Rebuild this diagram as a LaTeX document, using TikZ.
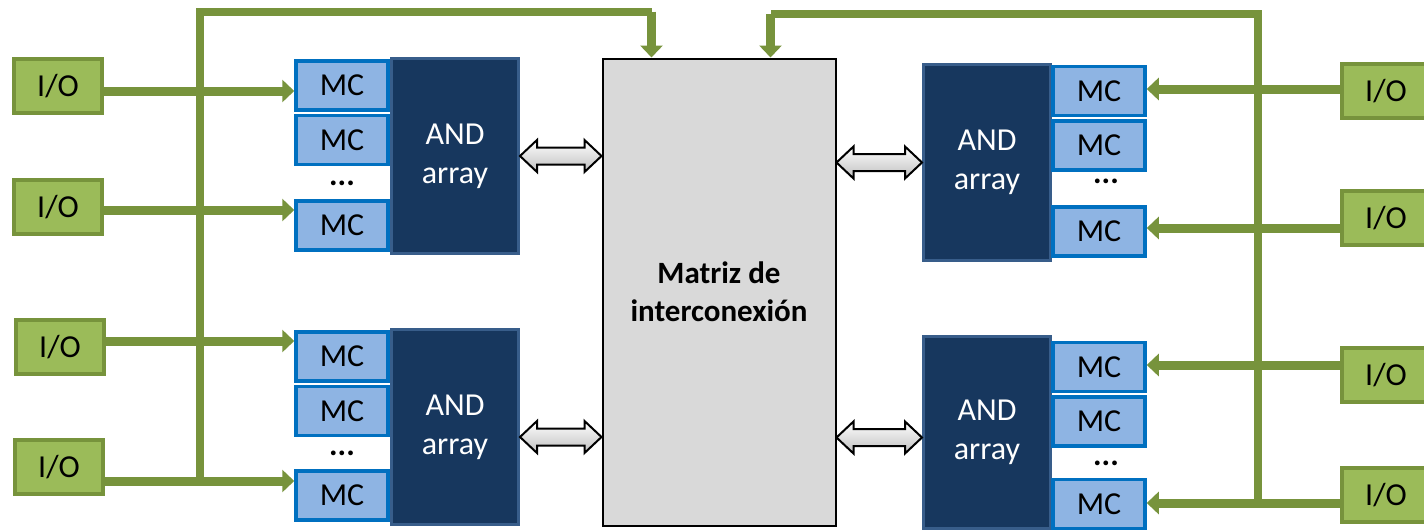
\documentclass[tikz,border=0pt]{standalone}
\usepackage{fontspec}
\setmainfont{Carlito}
\usetikzlibrary{arrows.meta,calc,positioning}

\definecolor{busgreen}{HTML}{77933C}
\definecolor{iofill}{HTML}{9BBB59}
\definecolor{mcfill}{HTML}{8EB4E3}
\definecolor{mcline}{HTML}{0070C0}
\definecolor{andfill}{HTML}{17375E}
\definecolor{andline}{HTML}{385D8A}
\definecolor{matfill}{HTML}{D9D9D9}

\tikzset{
  iobox/.style={draw=busgreen, fill=iofill, line width=4pt, minimum width=88pt, minimum height=54pt, inner sep=0pt},
  mccell/.style={draw=mcline, fill=mcfill, line width=3.5pt, minimum width=92pt, minimum height=49pt, inner sep=0pt},
  andblock/.style={draw=andline, fill=andfill, line width=3pt, text=white, align=center, minimum width=127pt, inner sep=0pt},
  dots/.style={inner sep=0pt, font=\fontsize{32}{38}\selectfont\bfseries},
  bus/.style={draw=busgreen, line width=8pt},
  busin/.style={bus, line width=9pt, -{Triangle[length=12pt,width=22pt]}},
  fatarrow/.style={draw=black, line width=2pt, top color=white, bottom color=black!25},
}

% block arrow between two points at the height of the first one
\newcommand{\fatarrow}[2]{%
  \draw[fatarrow] let \p1=(#1), \p2=(#2), \n1={\x2-\x1-34} in
    (#1) -- ++(17,-16) -- ++(0,7.5) -- ++(\n1,0) -- ++(0,-7.5) -- ++(17,16)
    -- ++(-17,16) -- ++(0,-7.5) -- ++(-\n1,0) -- ++(0,7.5) -- cycle;}

\begin{document}
\begin{tikzpicture}[x=1pt,y=-1pt,font=\fontsize{32}{39}\selectfont]
  \useasboundingbox (0,0) rectangle (1424,530);

  % interconnect matrix
  \node[draw=black, fill=matfill, line width=2pt, minimum width=233pt, minimum height=467pt,
        align=center, font=\fontsize{31}{38}\selectfont\bfseries] (matriz) at (719,292) {Matriz de\\interconexión};

  % left blocks
  \node[andblock, minimum height=195pt] (andA) at (455,156) {AND\\array};
  \node[mccell] (mcA1) at (342,85.5) {MC};
  \node[mccell, below=2pt of mcA1] (mcA2) {MC};
  \node[mccell] (mcA3) at (342,225.5) {MC};
  \node[dots] (dotsA) at (342,183) {...};

  \node[andblock, minimum height=195pt] (andB) at (455,427) {AND\\array};
  \node[mccell] (mcB1) at (342,356.5) {MC};
  \node[mccell, below=2pt of mcB1] (mcB2) {MC};
  \node[mccell] (mcB3) at (342,495.5) {MC};
  \node[dots] (dotsB) at (342,453) {...};

  % right blocks
  \node[andblock, minimum height=196pt] (andC) at (987,162.5) {AND\\array};
  \node[mccell] (mcC1) at (1099,91) {MC};
  \node[mccell, below=2pt of mcC1] (mcC2) {MC};
  \node[mccell] (mcC3) at (1099,231.5) {MC};
  \node[dots] (dotsC) at (1106,181) {...};

  \node[andblock, minimum height=192pt] (andD) at (987,432.5) {AND\\array};
  \node[mccell] (mcD1) at (1099,367) {MC};
  \node[mccell, below=2pt of mcD1] (mcD2) {MC};
  \node[mccell] (mcD3) at (1099,504) {MC};
  \node[dots] (dotsD) at (1106,463) {...};

  % I/O pins
  \node[iobox] (ioL1) at (58,86) {I/O};
  \node[iobox] (ioL2) at (58,207) {I/O};
  \node[iobox] (ioL3) at (60,347) {I/O};
  \node[iobox] (ioL4) at (59,467) {I/O};
  \node[iobox] (ioR1) at (1386,91) {I/O};
  \node[iobox] (ioR2) at (1386,218) {I/O};
  \node[iobox] (ioR3) at (1386,375) {I/O};
  \node[iobox] (ioR4) at (1386,495) {I/O};

  % feedback buses into the matrix
  \coordinate (lbus) at (200,481);
  \coordinate (rbus) at (1258,503);
  \draw[bus] (lbus) |- ($(matriz.north west)+(50,-46)$) coordinate (ltop);
  \draw[busin] (ltop) -- ($(matriz.north west)+(50,0)$);
  \draw[bus] (rbus) |- ($(matriz.north east)+(-66,-44)$) coordinate (rtop);
  \draw[busin] (rtop) -- ($(matriz.north east)+(-66,0)$);

  % pins to macrocells
  \foreach \io/\mc/\dy in {ioL1/mcA1/5, ioL2/mcA3/3, ioL3/mcB1/-6, ioL4/mcB3/14}
    \draw[busin] ($(\io.east)+(0,\dy)$) -- ($(\io.east -| \mc.west)+(0,\dy)$);
  \foreach \io/\mc/\dy in {ioR1/mcC1/-2, ioR2/mcC3/10, ioR3/mcD1/-10, ioR4/mcD3/8}
    \draw[busin] ($(\io.west)+(0,\dy)$) -- ($(\io.west -| \mc.east)+(0,\dy)$);

  % AND arrays <-> matrix
  \fatarrow{andA.east}{matriz.west}
  \fatarrow{$(andB.east)+(0,10)$}{matriz.west}
  \fatarrow{matriz.east |- andC.west}{andC.west}
  \fatarrow{$(matriz.east |- andD.west)+(0,5)$}{andD.west}
\end{tikzpicture}
\end{document}
